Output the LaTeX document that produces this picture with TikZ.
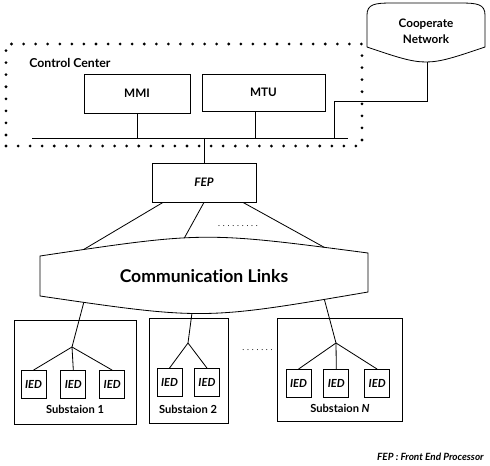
\documentclass[tikz,border=0pt]{standalone}
\usepackage{fontspec}
\setmainfont{Lato}[Ligatures=NoCommon]
\usetikzlibrary{positioning}
\begin{document}
\begin{tikzpicture}[x=0.03cm, y=-0.03cm, line width=0.7pt]

    % Styles
    \tikzstyle{boite} = [rectangle, draw=black, text centered, inner sep=0pt, font=\bfseries\fontsize{10}{12}\selectfont]
    \tikzstyle{poste} = [rectangle, draw=black, inner sep=0pt]
    \tikzstyle{ied} = [rectangle, draw=black, minimum width=0.75cm, minimum height=0.84cm, inner sep=0pt, font=\bfseries\itshape\fontsize{9.5}{11}\selectfont]
    \tikzstyle{titre} = [font=\bfseries\fontsize{9.5}{11}\selectfont, align=center]
    \tikzstyle{pointille} = [draw, line width=2.6pt, line cap=round, dash pattern=on 0pt off 10.3pt]
    \tikzstyle{points} = [font=\fontsize{7}{8}\selectfont, inner sep=0pt]

    \useasboundingbox (0,0) rectangle (490,466);

    % Centre de controle
    \node (centre) [pointille, rectangle, minimum width=10.68cm, minimum height=3.06cm, inner sep=0pt] at (184,95) {};
    \node (cc) [titre, font=\bfseries\fontsize{10.5}{12}\selectfont, anchor=west] at (25,63) {Control Center};
    \node (mmi) [boite, minimum width=3.18cm, minimum height=1.17cm] at (137,93.5) {MMI};
    \node (mtu) [boite, minimum width=3.69cm, minimum height=1.11cm] at (263.5,92.5) {MTU};
    \coordinate (busg) at (32,138);
    \coordinate (busd) at (348,138);
    \coordinate (prise) at (334,138);
    \coordinate (coude) at (334,101);

    % Reseau
    \draw (367,47) -- (367,15) .. controls (367,4) and (375,3) .. (392,3) -- (460,3)
        .. controls (477,3) and (485,4) .. (485,15) -- (485,47)
        .. controls (426,67) .. (367,47) coordinate[pos=0.483] (netb);
    \node (net) [titre, font=\bfseries\fontsize{10}{14}\selectfont] at (426,31) {Cooperate\\Network};

    % FEP
    \node (fep) [boite, font=\bfseries\itshape\fontsize{10}{12}\selectfont, minimum width=3.12cm, minimum height=1.17cm] at (204,182.5) {FEP};
    \node (pts1) [points] at (238,226) {. . . . . . . . .};

    % Liens de communication
    \draw (40,256) .. controls (204,231.5) .. (368,253)
        coordinate[pos=0.0976] (h1) coordinate[pos=0.421] (h2) coordinate[pos=0.902] (h3)
        -- (368,292) .. controls (204,320) .. (40,296)
        coordinate[pos=0.0976] (b3) coordinate[pos=0.549] (b2) coordinate[pos=0.902] (b1) -- cycle;
    \node (comm) [font=\bfseries\fontsize{15}{18}\selectfont] at (204,276) {Communication Links};

    % Postes
    \node (s1) [poste, minimum width=3.66cm, minimum height=3.12cm] at (75,372) {};
    \node (s2) [poste, minimum width=2.37cm, minimum height=3.15cm] at (188.5,370.5) {};
    \node (sn) [poste, minimum width=3.75cm, minimum height=3.09cm] at (339.5,369.5) {};
    \node (pts2) [points] at (257.5,350) {. . . . . . .};

    \node (ied11) [ied] at (33.5,384.5) {IED};
    \node (ied12) [ied, right=0.42cm of ied11] {IED};
    \node (ied13) [ied, right=0.39cm of ied12] {IED};
    \node (ied21) [ied] at (169.5,382.5) {IED};
    \node (ied22) [ied, right=0.35cm of ied21] {IED};
    \node (iedn1) [ied] at (298.5,383.5) {IED};
    \node (iedn2) [ied, right=0.36cm of iedn1] {IED};
    \node (iedn3) [ied, right=0.45cm of iedn2] {IED};

    \node (l1) [titre] at (75,409) {Substaion 1};
    \node (l2) [titre] at (188,409) {Substaion 2};
    \node (ln) [titre] at (340,408) {Substaion \textit{N}};

    \coordinate (j1) at (72,347);
    \coordinate (j2) at (188,343);
    \coordinate (jn) at (336,343);

    % Traits
    \draw (busg) -- (busd);
    \draw (mmi.south) -- (mmi.south |- busg);
    \draw ([xshift=-0.25cm]mtu.south) -- ([xshift=-0.25cm]mtu.south |- busg);
    \draw (prise) -- (coude) -| (netb);
    \draw (fep.north |- busg) -- (fep.north);

    \draw ([xshift=-1.23cm]fep.south) -- (h1);
    \draw (fep.south) -- (h2);
    \draw ([xshift=1.17cm]fep.south) -- (h3);

    \draw (b1) -- (j1);
    \draw (b2) -- (j2);
    \draw (b3) -- (jn);
    \foreach \i in {ied11,ied12,ied13} \draw (j1) -- (\i.north);
    \foreach \i in {ied21,ied22} \draw (j2) -- (\i.north);
    \foreach \i in {iedn1,iedn2,iedn3} \draw (jn) -- (\i.north);

    % Legende
    \node (leg) [anchor=east, font=\bfseries\itshape\fontsize{8.5}{10}\selectfont] at (488,457) {FEP : Front End Processor};

\end{tikzpicture}
\end{document}
